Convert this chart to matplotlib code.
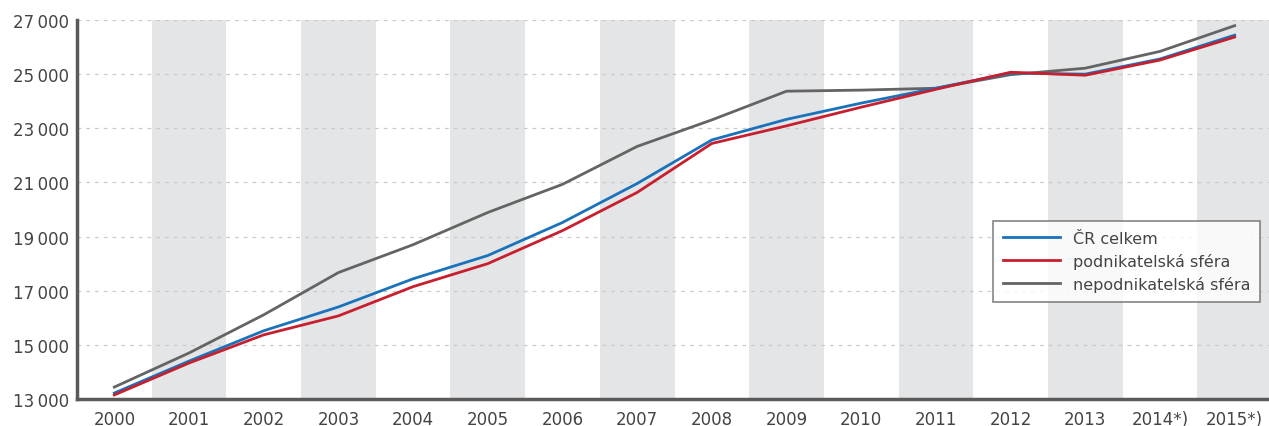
import matplotlib.pyplot as plt
import numpy as np

# data
years = ['2000', '2001', '2002', '2003', '2004', '2005', '2006', '2007',
         '2008', '2009', '2010', '2011', '2012', '2013', '2014*)', '2015*)']
cr_celkem = [13220, 14400, 15520, 16400, 17440, 18300, 19520, 20960,
             22570, 23330, 23930, 24480, 25040, 25000, 25560, 26440]
podnikatelska = [13150, 14330, 15370, 16070, 17150, 18000, 19220, 20630,
                 22440, 23090, 23780, 24440, 25070, 24960, 25520, 26370]
nepodnikatelska = [13440, 14700, 16110, 17670, 18700, 19890, 20930, 22330,
                   23310, 24370, 24410, 24480, 24980, 25220, 25840, 26790]
yticks = [13000, 15000, 17000, 19000, 21000, 23000, 25000, 27000]

txt = '#444444'
fig = plt.figure(figsize=(12.69, 4.27), dpi=100)
ax = fig.add_axes([77 / 1269, 27 / 427, 1195 / 1269, 379 / 427])

x = np.arange(len(years))
# alternating bands
for i in x:
    if i % 2 == 1:
        ax.axvspan(i - 0.5, i + 0.5, color='#e4e5e7', lw=0, zorder=0)

ax.plot(x, nepodnikatelska, color='#646464', lw=2.0, label='nepodnikatelská sféra', zorder=3)
ax.plot(x, cr_celkem, color='#1a72bb', lw=2.0, label='ČR celkem', zorder=4)
ax.plot(x, podnikatelska, color='#c71f2d', lw=2.0, label='podnikatelská sféra', zorder=5)

ax.set_xlim(-0.5, len(years) - 0.5)
ax.set_ylim(13000, 27000)
ax.set_yticks(yticks)
ax.set_yticklabels([f'{v:,}'.replace(',', '\u2009') for v in yticks])
ax.set_xticks(x)
ax.set_xticklabels(years)
ax.tick_params(length=0, labelsize=12, labelcolor=txt)
ax.tick_params(axis='x', pad=8)
ax.tick_params(axis='y', pad=6)

ax.grid(axis='y', color='#cacaca', ls=(0, (3, 4)), lw=0.9, zorder=1)
ax.set_axisbelow(True)
for s in ['top', 'right']:
    ax.spines[s].set_visible(False)
for s in ['left', 'bottom']:
    ax.spines[s].set_color('#5a5a5a')
    ax.spines[s].set_linewidth(2.5)
    ax.spines[s].set_zorder(6)

h, l = ax.get_legend_handles_labels()
order = [1, 2, 0]
leg = fig.legend([h[i] for i in order], [l[i] for i in order],
                 loc='upper left', bbox_to_anchor=(993 / 1269, 1 - 222 / 427),
                 fontsize=11.5, frameon=True, fancybox=False, handlelength=3.6,
                 borderpad=0.6, labelspacing=0.45, handletextpad=0.8,
                 borderaxespad=0)
leg.get_frame().set_edgecolor('#666666')
leg.get_frame().set_linewidth(1.2)
for t in leg.get_texts():
    t.set_color(txt)

fig.savefig('out.png', dpi=100)
